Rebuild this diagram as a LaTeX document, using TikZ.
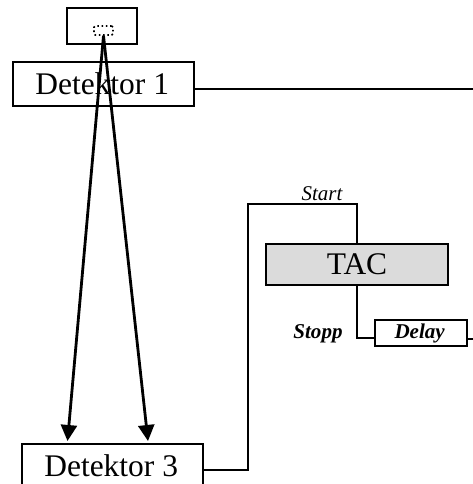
\documentclass[tikz,border=0pt]{standalone}
\usepackage{fontspec}
\setmainfont{Liberation Serif}
\usetikzlibrary{arrows.meta}
\newcommand{\pxfont}[1]{\fontsize{#1}{#1}\selectfont}
\tikzset{
  box/.style={draw=black,fill=white,line width=1.6pt,inner sep=0pt,anchor=center},
  wire/.style={draw=black,line width=1.4pt},
  ray/.style={draw=black,line width=2.1pt,-{Triangle[length=12pt,width=12pt]},shorten >=0pt},
  large/.style={font=\pxfont{23.6pt}},
  small/.style={font=\pxfont{15.7pt}\itshape},
  smallb/.style={font=\pxfont{15.8pt}\bfseries\itshape},
}
\begin{document}
\begin{tikzpicture}[x=0.75pt,y=-0.75pt]
\useasboundingbox (0,0) rectangle (473,484);
\node[box,minimum width=52.5pt,minimum height=27pt] (src) at (102,26) {};
\node[box,large,minimum width=135.75pt,minimum height=33pt] (d1) at (103.5,84) {\hspace*{-2pt}Detektor 1};
\node[box,large,minimum width=135.75pt,minimum height=33pt] (d3) at (112.5,466) {\hspace*{-2pt}Detektor 3};
\node[draw=black,dotted,line width=1.2pt,fill=white,inner sep=0pt,minimum width=14.25pt,minimum height=6.75pt,rounded corners=1pt] (spot) at (103.5,30.5) {};
\node[box,large,fill=black!14,line width=1.9pt,minimum width=136.5pt,minimum height=30.75pt] (tac) at (357,264.5) {TAC};
\node[box,smallb,minimum width=69pt,minimum height=19.5pt] (delay) at (421,333) {\hspace*{-2pt}Delay};
\node[small,inner sep=0pt] (start) at (322,194) {Start};
\node[smallb,inner sep=0pt] (stopp) at (318,334) {Stopp};
\coordinate (e1) at (473,89);
\coordinate (e2) at (473,339);
\coordinate (t1) at (67.5,441);
\coordinate (t2) at (148,441);
\coordinate (c1) at (248,470);
\coordinate (c2) at (248,204);
\coordinate (c3) at (357,204);
\coordinate (c4) at (357,338);
\draw[wire] (194,89) -- (e1);
\draw[wire] (203,470) -- (c1) -- (c2) -- (c3) -- (tac.north);
\draw[wire] (tac.south) -- (c4) -- (delay.west |- c4);
\draw[wire] (delay.east |- e2) -- (e2);
\draw[ray] (spot.south) -- (t1);
\draw[ray] (spot.south) -- (t2);
\end{tikzpicture}
\end{document}
